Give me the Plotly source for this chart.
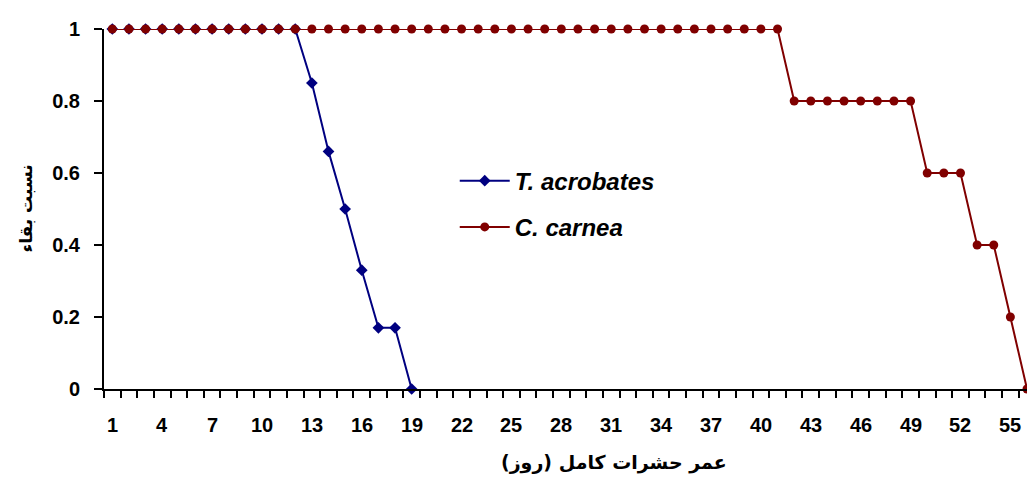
import plotly.graph_objects as go

# ----------------------------
# data
# ----------------------------
days_ta = list(range(1, 20))
t_acrobates = [1, 1, 1, 1, 1, 1, 1, 1, 1, 1, 1, 1,
               0.85, 0.66, 0.5, 0.33, 0.17, 0.17, 0]

days_cc = list(range(1, 57))
c_carnea = [1, 1, 1, 1, 1, 1, 1, 1, 1, 1,
            1, 1, 1, 1, 1, 1, 1, 1, 1, 1,
            1, 1, 1, 1, 1, 1, 1, 1, 1, 1,
            1, 1, 1, 1, 1, 1, 1, 1, 1, 1,
            1,
            0.8, 0.8, 0.8, 0.8, 0.8, 0.8, 0.8, 0.8,
            0.6, 0.6, 0.6,
            0.4, 0.4,
            0.2,
            0]

x_tick_days = [1, 4, 7, 10, 13, 16, 19, 22, 25, 28, 31, 34, 37, 40, 43, 46, 49, 52, 55]
y_tick_vals = [0, 0.2, 0.4, 0.6, 0.8, 1]
y_tick_text = ["0", "0.2", "0.4", "0.6", "0.8", "1"]

x_title = "عمر حشرات کامل (روز)"
y_title = "نسبت بقاء"

LATIN = "Liberation Sans, Arial, sans-serif"
ARABIC = "DejaVu Sans, sans-serif"

fig = go.Figure()

fig.add_trace(go.Scatter(
    x=days_ta, y=t_acrobates, name="T. acrobates", mode="lines+markers",
    line=dict(color="#000080", width=2),
    marker=dict(symbol="diamond", size=9, color="#000080"),
    legendgroup="a", cliponaxis=False,
))
fig.add_trace(go.Scatter(
    x=days_cc, y=c_carnea, name="C. carnea", mode="lines+markers",
    line=dict(color="#800000", width=2),
    marker=dict(symbol="circle", size=9, color="#800000"),
    legendgroup="b", cliponaxis=False,
))

# ticks sit between the days; the day labels are placed below them on the x scale
fig.update_xaxes(
    range=[0.5, 56.0],
    tickmode="linear", tick0=0.5, dtick=1,
    ticks="outside", ticklen=7, tickwidth=2, tickcolor="black",
    showticklabels=False,
    showline=True, linecolor="black", linewidth=2,
    showgrid=False, zeroline=False,
)
for d in x_tick_days:
    fig.add_annotation(
        text=str(d), x=d, xref="x", y=0, yref="y", yshift=-36,
        xanchor="center", yanchor="middle", showarrow=False,
        font=dict(family=LATIN, size=20, color="black", weight="bold"),
    )

fig.update_yaxes(
    range=[0, 1],
    tickmode="array", tickvals=y_tick_vals, ticktext=y_tick_text,
    ticks="outside", ticklen=8, tickwidth=2, tickcolor="black",
    ticklabelstandoff=10,
    showline=True, linecolor="black", linewidth=2,
    showgrid=False, zeroline=False,
    tickfont=dict(family=LATIN, size=20, color="black", weight="bold"),
)

fig.add_annotation(
    text=x_title, xref="paper", yref="paper", x=0.553, y=-0.205,
    xanchor="center", yanchor="middle", showarrow=False,
    font=dict(family=ARABIC, size=19, color="black", weight="bold"),
)
fig.add_annotation(
    text=y_title, xref="paper", yref="paper", x=-0.085, y=0.5,
    xanchor="center", yanchor="middle", showarrow=False, textangle=-90,
    font=dict(family=ARABIC, size=17, color="black", weight="bold"),
)

# page body has an 8px margin and the window shows up to x=1027
fig.update_layout(
    width=1019, height=469,
    margin=dict(l=96, r=0, t=21, b=88, autoexpand=False),
    plot_bgcolor="white", paper_bgcolor="white",
    showlegend=True,
    legend=dict(
        x=0.38, y=0.64, xanchor="left", yanchor="top",
        bgcolor="rgba(0,0,0,0)", tracegroupgap=12, itemwidth=50,
        font=dict(family=LATIN, size=24, color="black", weight="bold", style="italic"),
    ),
)

fig.write_html("out.html")
